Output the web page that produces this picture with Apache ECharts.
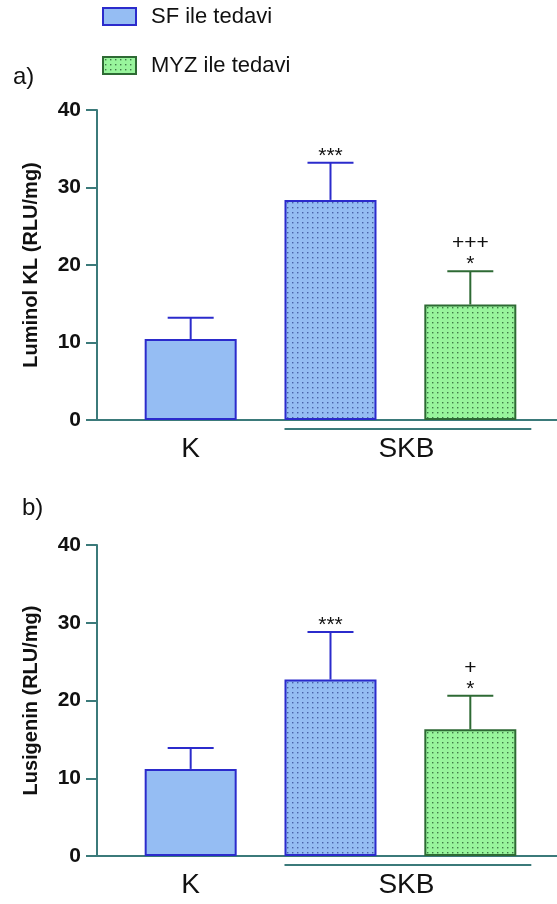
<!DOCTYPE html>
<html>
<head>
<meta charset="utf-8">
<script src="https://cdn.jsdelivr.net/npm/echarts@6/dist/echarts.min.js"></script>
<style>
html,body{margin:0;padding:0;background:#fff;}
#c{width:557px;height:904px;}
</style>
</head>
<body>
<div id="c"></div>
<script>
// ---- data ----
const seriesNames = ['SF ile tedavi', 'MYZ ile tedavi'];
const groupLabels = ['K', 'SKB'];
const groupMembers = [[1], [2, 3]];        // bar slots per group
const barSlots = [1, 2, 3];                // K, SKB+SF, SKB+MYZ
const barSeriesOf = [0, 0, 1];             // which legend series each bar belongs to
const barDotted = [false, true, true];
const yTicks = [0, 10, 20, 30, 40];

const panelTitles = ['a)', 'b)'];
const yNames = ['Luminol KL (RLU/mg)', 'Lusigenin (RLU/mg)'];
const meansA = [10.45, 28.4, 14.9];
const errTopA = [13.2, 33.2, 19.2];
const marksA = ['', '***', '+++\n*'];
const meansB = [11.2, 22.7, 16.3];
const errTopB = [13.9, 28.8, 20.6];
const marksB = ['', '***', '+\n*'];

// ---- styles ----
const FONT = 'Liberation Sans, Arial, sans-serif';
const AXIS = '#3b7a7a';
const BLUE_FILL = '#95bdf3', BLUE_EDGE = '#2b2bcc', BLUE_DOT = '#4a62a8';
const GREEN_FILL = '#98f59c', GREEN_EDGE = '#2e6a34', GREEN_DOT = '#3f7a48';

function pattern(fill, dot) {
  const c = document.createElement('canvas');
  c.width = 5; c.height = 5;
  const g = c.getContext('2d');
  g.fillStyle = fill; g.fillRect(0, 0, 5, 5);
  g.fillStyle = dot; g.fillRect(2, 2, 1.4, 1.4);
  return { image: c, repeat: 'repeat' };
}
const bluePat = pattern(BLUE_FILL, BLUE_DOT);
const greenPat = pattern(GREEN_FILL, GREEN_DOT);
const fills = [[BLUE_FILL, bluePat], [GREEN_FILL, greenPat]];
const edges = [BLUE_EDGE, GREEN_EDGE];

const grids = [
  { left: 97, right: 0, top: 110, height: 310 },
  { left: 97, right: 0, top: 545, height: 311 }
];

const xAxes = [], yAxes = [], series = [];
const panels = [[meansA, errTopA, marksA], [meansB, errTopB, marksB]];

panels.forEach((p, gi) => {
  const [means, errs, marks] = p;
  const labelPos = groupMembers.map(m => m.reduce((a, b) => a + b, 0) / m.length);
  xAxes.push({
    gridIndex: gi, type: 'value', min: 0.33, max: 3.62,
    axisLine: { show: true, onZero: false, lineStyle: { color: AXIS, width: 2 } },
    axisTick: { show: false }, splitLine: { show: false },
    axisLabel: {
      customValues: labelPos,
      formatter: v => {
        const i = labelPos.findIndex(q => Math.abs(q - v) < 1e-6);
        return i < 0 ? '' : (groupMembers[i].length > 1 ? '{g|' + groupLabels[i] + '}' : groupLabels[i]);
      },
      rich: { g: { fontFamily: FONT, fontSize: 28, color: '#111', padding: [0, 0, 0, 12] } },
      fontFamily: FONT, fontSize: 28, color: '#111', margin: 15
    }
  });
  yAxes.push({
    gridIndex: gi, type: 'value', min: yTicks[0], max: yTicks[yTicks.length - 1], interval: 10,
    name: yNames[gi], nameLocation: 'middle', nameGap: 56,
    nameTextStyle: { fontFamily: FONT, fontSize: 20, fontWeight: 'bold', color: '#111' },
    axisLine: { show: true, lineStyle: { color: AXIS, width: 2 } },
    axisTick: { show: true, length: 11, lineStyle: { color: AXIS, width: 2 } },
    splitLine: { show: false },
    axisLabel: { fontFamily: FONT, fontSize: 21, fontWeight: 'bold', color: '#111', margin: 16 }
  });
  // bar series per legend entry
  seriesNames.forEach((name, si) => {
    const data = [];
    barSlots.forEach((x, bi) => {
      if (barSeriesOf[bi] !== si) return;
      data.push({ value: [x, means[bi]], itemStyle: { color: fills[si][barDotted[bi] ? 1 : 0] } });
    });
    series.push({
      name, type: 'bar', xAxisIndex: gi, yAxisIndex: gi, barWidth: 92, barGap: '-100%',
      itemStyle: { color: si === 0 ? BLUE_FILL : greenPat, borderColor: edges[si], borderWidth: 2 },
      data, z: 2
    });
  });
  // error bars + significance marks
  series.push({
    type: 'custom', xAxisIndex: gi, yAxisIndex: gi, z: 3, silent: true,
    data: barSlots.map((x, bi) => [x, means[bi], errs[bi]]),
    renderItem: (params, api) => {
      const bi = params.dataIndex;
      const x = api.value(0);
      const p0 = api.coord([x, api.value(1)]);
      const p1 = api.coord([x, api.value(2)]);
      const col = edges[barSeriesOf[bi]];
      const children = [
        { type: 'line', shape: { x1: p0[0], y1: p0[1], x2: p1[0], y2: p1[1] }, style: { stroke: col, lineWidth: 2 } },
        { type: 'line', shape: { x1: p1[0] - 23, y1: p1[1], x2: p1[0] + 23, y2: p1[1] }, style: { stroke: col, lineWidth: 2 } }
      ];
      if (marks[bi]) {
        children.push({
          type: 'text',
          style: { text: marks[bi], x: p1[0], y: p1[1] + 4, align: 'center', verticalAlign: 'bottom',
                   font: '21px ' + FONT, fill: '#111', lineHeight: 21 }
        });
      }
      return { type: 'group', children };
    }
  });
  // group underline for multi-bar groups
  series.push({
    type: 'custom', xAxisIndex: gi, yAxisIndex: gi, z: 3, silent: true,
    data: groupMembers.filter(m => m.length > 1).map(m => [m[0], m[m.length - 1]]),
    renderItem: (params, api) => {
      const a = api.coord([api.value(0), 0]);
      const b = api.coord([api.value(1), 0]);
      return { type: 'line', shape: { x1: a[0] - 46, y1: a[1] + 9, x2: b[0] + 61, y2: b[1] + 9 },
               style: { stroke: AXIS, lineWidth: 2 } };
    }
  });
});

const chart = echarts.init(document.getElementById('c'), null, { renderer: 'canvas' });
chart.setOption({
  animation: false,
  backgroundColor: '#fff',
  title: panelTitles.map((t, i) => ({
    text: t, left: i === 0 ? 8 : 17, top: i === 0 ? 60 : 491,
    textStyle: { fontFamily: FONT, fontSize: 24, fontWeight: 'normal', color: '#111' }
  })),
  legend: {
    data: seriesNames, orient: 'vertical', left: 97, top: -1,
    icon: 'rect', itemWidth: 33, itemHeight: 17, itemGap: 24,
    textStyle: { fontFamily: FONT, fontSize: 22, color: '#111', padding: [0, 0, 0, 10], lineHeight: 25 },
    selectedMode: false
  },
  grid: grids,
  xAxis: xAxes,
  yAxis: yAxes,
  series
});
</script>
</body>
</html>
